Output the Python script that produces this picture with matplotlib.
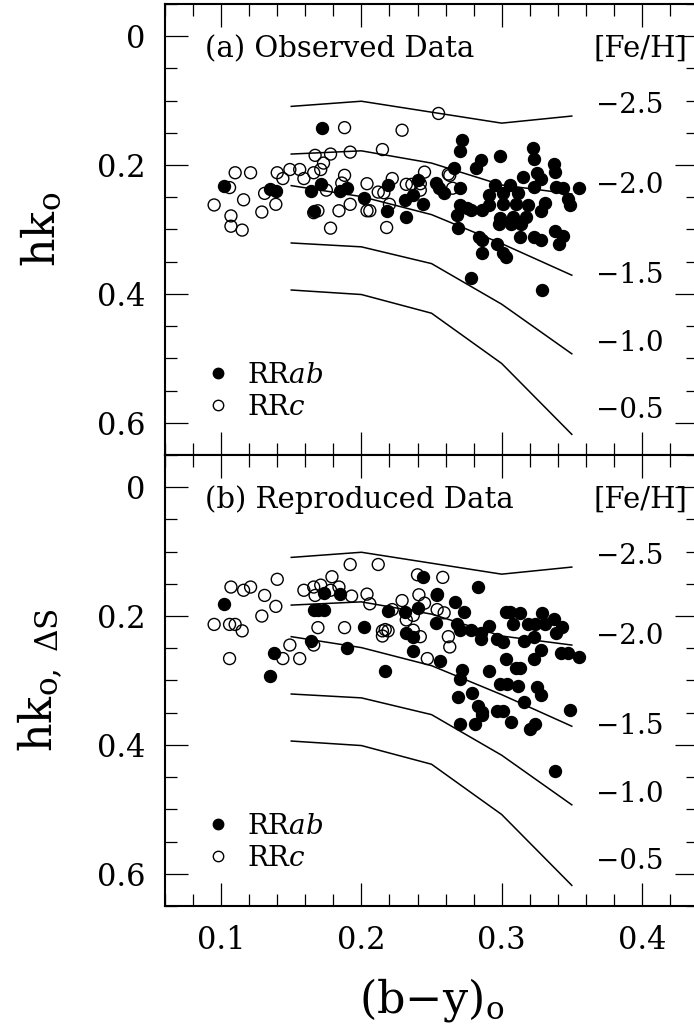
import matplotlib
matplotlib.use('Agg')
import matplotlib.pyplot as plt
from matplotlib.ticker import MultipleLocator, FuncFormatter
from matplotlib.lines import Line2D

plt.rcParams['font.family'] = 'DejaVu Serif'
plt.rcParams['mathtext.fontset'] = 'dejavuserif'

# model grid: hk_o along (b-y)_o for each [Fe/H]
grid_by = [0.15, 0.20, 0.25, 0.30, 0.35]
feh_levels = [-2.5, -2.0, -1.5, -1.0, -0.5]
grid_hk_m25 = [0.109, 0.101, 0.118, 0.135, 0.124]
grid_hk_m20 = [0.183, 0.178, 0.197, 0.231, 0.245]
grid_hk_m15 = [0.232, 0.249, 0.277, 0.322, 0.371]
grid_hk_m10 = [0.321, 0.327, 0.353, 0.416, 0.493]
grid_hk_m05 = [0.394, 0.401, 0.430, 0.508, 0.618]
feh_label_y = [0.107, 0.2325, 0.372, 0.477, 0.581]

# (a) observed data
ab_by_a = [0.172, 0.102, 0.135, 0.139, 0.164, 0.171, 0.166, 0.185, 0.190, 0.202,
           0.218, 0.219, 0.232, 0.231, 0.237, 0.244, 0.240, 0.253, 0.255, 0.259,
           0.272, 0.270, 0.285, 0.282, 0.299, 0.322, 0.323, 0.337, 0.338, 0.266,
           0.325, 0.328, 0.315, 0.295, 0.306, 0.323, 0.339, 0.344, 0.355, 0.270,
           0.291, 0.301, 0.312, 0.347, 0.270, 0.275, 0.268, 0.278, 0.286, 0.291,
           0.301, 0.310, 0.319, 0.328, 0.331, 0.349, 0.299, 0.308, 0.317, 0.298,
           0.307, 0.314, 0.269, 0.284, 0.286, 0.297, 0.313, 0.323, 0.328, 0.338,
           0.344, 0.341, 0.286, 0.301, 0.303, 0.278, 0.329]
ab_hk_a = [0.142, 0.232, 0.238, 0.240, 0.240, 0.229, 0.271, 0.240, 0.235, 0.251,
           0.271, 0.231, 0.280, 0.254, 0.247, 0.260, 0.223, 0.228, 0.236, 0.243,
           0.161, 0.178, 0.192, 0.205, 0.186, 0.174, 0.191, 0.199, 0.211, 0.204,
           0.213, 0.222, 0.219, 0.231, 0.231, 0.234, 0.234, 0.236, 0.236, 0.236,
           0.247, 0.244, 0.243, 0.252, 0.262, 0.267, 0.278, 0.270, 0.270, 0.262,
           0.260, 0.260, 0.262, 0.272, 0.259, 0.262, 0.283, 0.280, 0.280, 0.292,
           0.292, 0.291, 0.297, 0.311, 0.316, 0.322, 0.312, 0.312, 0.317, 0.302,
           0.310, 0.322, 0.336, 0.337, 0.342, 0.376, 0.394]
c_by_a = [0.095, 0.110, 0.121, 0.106, 0.116, 0.107, 0.107, 0.115, 0.129, 0.131,
          0.139, 0.140, 0.144, 0.149, 0.156, 0.159, 0.166, 0.167, 0.173, 0.171,
          0.178, 0.192, 0.188, 0.229, 0.215, 0.188, 0.186, 0.175, 0.166, 0.169,
          0.184, 0.192, 0.204, 0.204, 0.206, 0.220, 0.222, 0.212, 0.216, 0.232,
          0.236, 0.242, 0.245, 0.255, 0.262, 0.218, 0.178, 0.263, 0.242, 0.265]
c_hk_a = [0.262, 0.212, 0.212, 0.235, 0.254, 0.279, 0.295, 0.301, 0.273, 0.244,
          0.261, 0.212, 0.221, 0.207, 0.207, 0.221, 0.212, 0.185, 0.197, 0.207,
          0.183, 0.180, 0.142, 0.146, 0.176, 0.216, 0.228, 0.239, 0.274, 0.271,
          0.271, 0.261, 0.229, 0.271, 0.271, 0.261, 0.221, 0.242, 0.243, 0.230,
          0.230, 0.229, 0.211, 0.120, 0.214, 0.297, 0.298, 0.216, 0.239, 0.236]

# (b) reproduced data
ab_by_b = [0.102, 0.138, 0.135, 0.164, 0.166, 0.169, 0.173, 0.173, 0.185, 0.190,
           0.202, 0.217, 0.219, 0.231, 0.240, 0.232, 0.237, 0.237, 0.253, 0.254,
           0.244, 0.256, 0.283, 0.267, 0.273, 0.268, 0.278, 0.270, 0.285, 0.285,
           0.291, 0.297, 0.301, 0.303, 0.306, 0.313, 0.308, 0.316, 0.319, 0.324,
           0.331, 0.323, 0.329, 0.337, 0.343, 0.339, 0.328, 0.323, 0.342, 0.347,
           0.355, 0.303, 0.310, 0.313, 0.291, 0.272, 0.270, 0.299, 0.304, 0.312,
           0.325, 0.279, 0.269, 0.283, 0.286, 0.286, 0.328, 0.316, 0.297, 0.301,
           0.307, 0.320, 0.324, 0.281, 0.270, 0.349, 0.338]
ab_hk_b = [0.181, 0.258, 0.293, 0.238, 0.191, 0.191, 0.191, 0.165, 0.166, 0.249,
           0.217, 0.285, 0.192, 0.193, 0.187, 0.226, 0.232, 0.254, 0.211, 0.166,
           0.139, 0.270, 0.155, 0.178, 0.193, 0.212, 0.221, 0.221, 0.227, 0.236,
           0.215, 0.236, 0.240, 0.193, 0.194, 0.195, 0.212, 0.239, 0.213, 0.213,
           0.213, 0.232, 0.196, 0.204, 0.217, 0.226, 0.253, 0.266, 0.258, 0.258,
           0.263, 0.266, 0.281, 0.281, 0.285, 0.283, 0.298, 0.305, 0.305, 0.309,
           0.310, 0.319, 0.326, 0.340, 0.349, 0.354, 0.323, 0.333, 0.347, 0.347,
           0.364, 0.376, 0.367, 0.367, 0.367, 0.346, 0.440]
c_by_b = [0.095, 0.106, 0.110, 0.115, 0.106, 0.107, 0.116, 0.121, 0.131, 0.140,
          0.139, 0.129, 0.149, 0.144, 0.156, 0.159, 0.166, 0.167, 0.171, 0.179,
          0.178, 0.184, 0.192, 0.212, 0.193, 0.204, 0.206, 0.169, 0.188, 0.166,
          0.215, 0.217, 0.219, 0.215, 0.222, 0.229, 0.237, 0.232, 0.240, 0.241,
          0.245, 0.258, 0.254, 0.254, 0.259, 0.237, 0.242, 0.247, 0.262, 0.263]
c_hk_b = [0.213, 0.213, 0.213, 0.223, 0.266, 0.155, 0.160, 0.155, 0.168, 0.143,
          0.185, 0.200, 0.245, 0.266, 0.266, 0.160, 0.155, 0.168, 0.152, 0.139,
          0.160, 0.155, 0.120, 0.120, 0.169, 0.166, 0.181, 0.218, 0.218, 0.245,
          0.223, 0.221, 0.223, 0.231, 0.190, 0.176, 0.199, 0.206, 0.136, 0.167,
          0.180, 0.140, 0.168, 0.190, 0.195, 0.222, 0.232, 0.266, 0.232, 0.248]

grid_hk = [grid_hk_m25, grid_hk_m20, grid_hk_m15, grid_hk_m10, grid_hk_m05]


def fmt_hk(v, pos):
    return '0' if abs(v) < 1e-9 else f'{v:.1f}'


def draw_panel(ax, ab_by, ab_hk, c_by, c_hk, title):
    for hk in grid_hk:
        ax.plot(grid_by, hk, color='k', lw=1.1)
    ax.scatter(c_by, c_hk, s=74, facecolors='none', edgecolors='k', linewidths=1.0)
    ax.scatter(ab_by, ab_hk, s=74, facecolors='k', edgecolors='k', linewidths=1.0)

    for v, yl in zip(feh_levels, feh_label_y):
        ax.text(0.367, yl, f'{v:.1f}'.replace('-', '\u2212'), fontsize=20,
                ha='left', va='center')
    ax.text(0.0885, 0.02, title, fontsize=21, ha='left', va='center')
    ax.text(0.4325, 0.02, '[Fe/H]', fontsize=21, ha='right', va='center')

    handles = [Line2D([], [], ls='', marker='o', ms=7.5, color='k'),
               Line2D([], [], ls='', marker='o', ms=7.5, mfc='none', mec='k', mew=1.0)]
    ax.legend(handles, [r'RR$\mathit{ab}$', r'RR$\mathit{c}$'], loc='center left',
              bbox_to_anchor=(0.084, 0.141), frameon=False, fontsize=20,
              handlelength=0.6, handletextpad=0.73, borderpad=0, borderaxespad=0,
              labelspacing=0.18)

    ax.set_xlim(0.06, 0.44)
    ax.set_ylim(0.65, -0.05)
    ax.xaxis.set_major_locator(MultipleLocator(0.1))
    ax.xaxis.set_minor_locator(MultipleLocator(0.02))
    ax.yaxis.set_major_locator(MultipleLocator(0.2))
    ax.yaxis.set_minor_locator(MultipleLocator(0.05))
    ax.yaxis.set_major_formatter(FuncFormatter(fmt_hk))
    ax.tick_params(which='both', direction='in', top=True, right=True,
                   width=0.9, labelsize=22, pad=14)
    ax.tick_params(which='major', length=16.6)
    ax.tick_params(which='minor', length=8.6)
    for sp in ax.spines.values():
        sp.set_linewidth(1.5)


fig = plt.figure(figsize=(6.94, 10.34), dpi=100)
ax_a = fig.add_axes([0.2378, 0.5600, 0.7680, 0.4362])
ax_b = fig.add_axes([0.2378, 0.1238, 0.7680, 0.4362])

draw_panel(ax_a, ab_by_a, ab_hk_a, c_by_a, c_hk_a, '(a) Observed Data')
draw_panel(ax_b, ab_by_b, ab_hk_b, c_by_b, c_hk_b, '(b) Reproduced Data')

ax_a.tick_params(labelbottom=False)
ax_a.set_ylabel(r'hk$_\mathrm{o}$', fontsize=32)
ax_a.yaxis.set_label_coords(-0.19, 0.5)
ax_b.set_ylabel(r'hk$_\mathrm{o,\ \Delta S}$', fontsize=32)
ax_b.yaxis.set_label_coords(-0.19, 0.5)
ax_b.set_xlabel(r'(b$-$y)$_\mathrm{o}$', fontsize=32)
ax_b.xaxis.set_label_coords(0.5, -0.155)

fig.savefig('out.png', dpi=100)
